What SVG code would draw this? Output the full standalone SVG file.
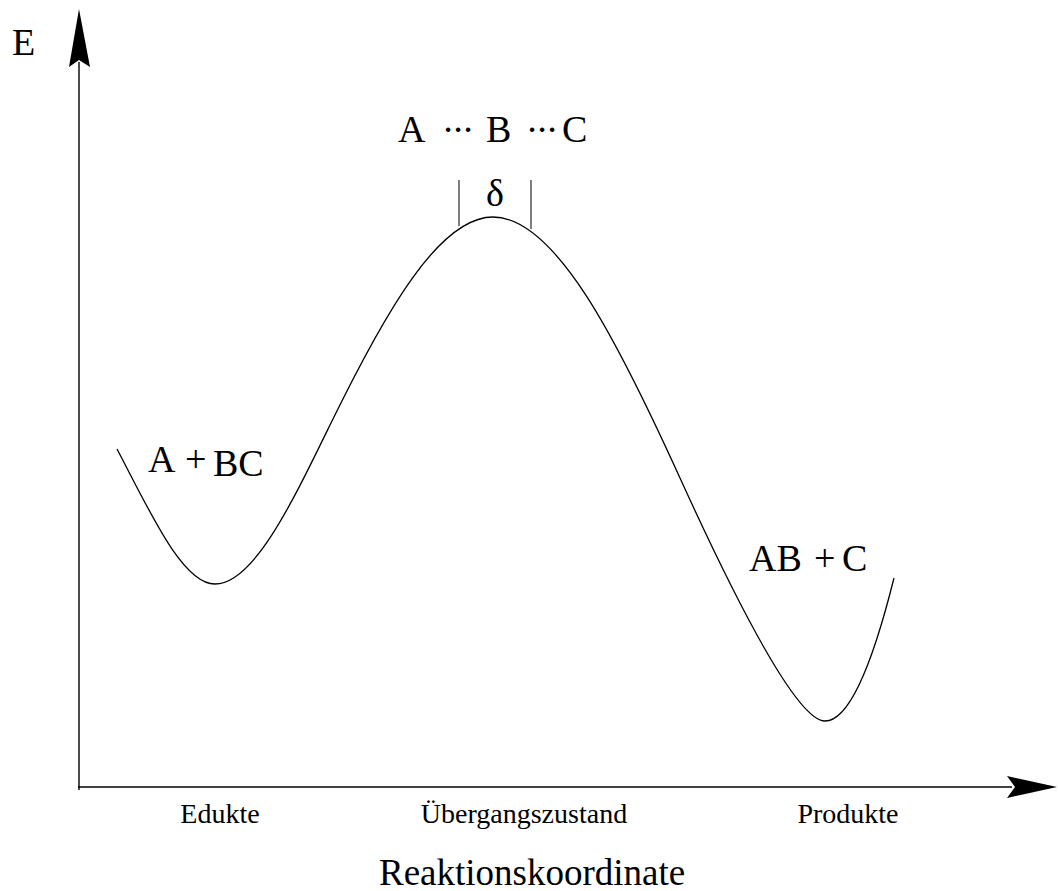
<svg xmlns="http://www.w3.org/2000/svg" width="1058" height="891" viewBox="0 0 1058 891">
<style>
.ax{stroke:#000;stroke-width:1.4;fill:none}
.head{fill:#000;stroke:none}
.crv{stroke:#000;stroke-width:1.3;fill:none}
.tk{stroke:#000;stroke-width:1;fill:none}
text{font-family:"Liberation Serif","Times New Roman",serif;fill:#000}
.big{font-size:38px}
.dots{font-size:38px;text-anchor:middle}
.lab{font-size:28px;text-anchor:middle}
.ttl{font-size:37px}
</style>
<rect width="1058" height="891" fill="#fff"/>
<g id="axes">
<line class="ax" x1="79" y1="62" x2="79" y2="790"/>
<line class="ax" x1="78" y1="787" x2="1012" y2="787"/>
<polygon class="head" points="79,9 90,67 79,60 69,67"/>
<polygon class="head" points="1057,787 1007,798 1015,787 1007,776"/>
<text x="12" y="55" class="big">E</text>
</g>
<g id="curve">
<path class="crv" d="M117,449 C149.7,511.1 182.3,584 215,584 C253.3,584 291.7,503.5 330,425 C384.3,313.7 438.7,217 493,217 C555.3,217 617.7,340.9 680,478 C728.3,584.3 795,721 825,721 C848,721 871,670 894,578"/>
</g>
<g id="transition-state">
<text x="398" y="142" class="big">A</text>
<text x="448 458 468" y="142" class="dots">···</text>
<text x="486" y="142" class="big">B</text>
<text x="532 542 552" y="142" class="dots">···</text>
<text x="562" y="142" class="big">C</text>
<text x="486" y="206" class="big">δ</text>
<line class="tk" x1="459" y1="180" x2="459" y2="226"/>
<line class="tk" x1="531" y1="180" x2="531" y2="229"/>
</g>
<g id="educts">
<text x="148" y="472" class="big">A</text>
<text x="185" y="472" class="big">+</text>
<text x="213" y="476" class="big">BC</text>
</g>
<g id="products">
<text x="749" y="571" class="big">AB</text>
<text x="814" y="571" class="big">+</text>
<text x="842" y="571" class="big">C</text>
</g>
<g id="axis-labels">
<text x="220" y="823" class="lab">Edukte</text>
<text x="524" y="823" class="lab">Übergangszustand</text>
<text x="848" y="823" class="lab">Produkte</text>
<text x="379" y="885" class="ttl">Reaktionskoordinate</text>
</g>
</svg>
